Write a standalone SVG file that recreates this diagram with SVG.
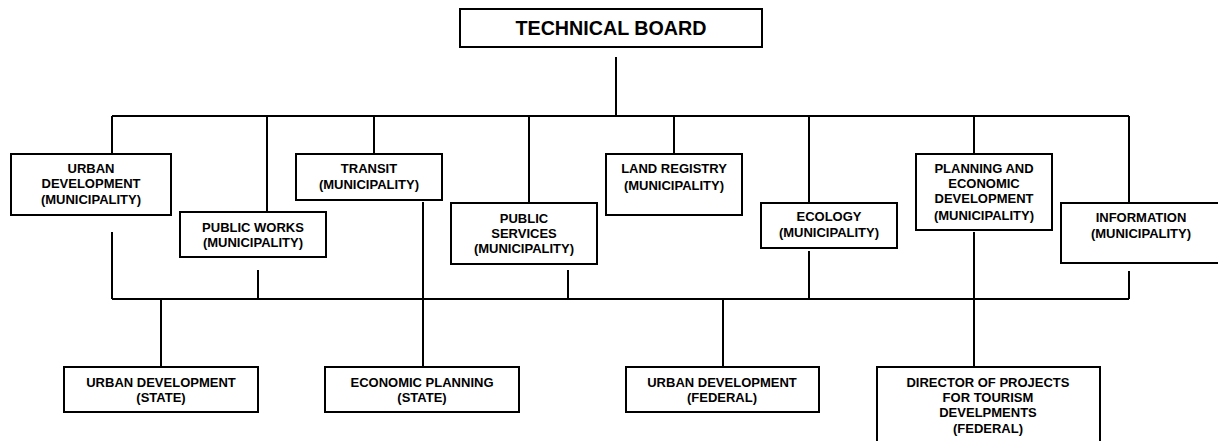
<svg xmlns="http://www.w3.org/2000/svg" width="1218" height="441" viewBox="0 0 1218 441">
<style>
.box{fill:#fff;stroke:#000;stroke-width:2}
.t{font-family:"Liberation Sans",Arial,sans-serif;font-weight:bold;font-size:13px;fill:#000;text-anchor:middle}
.big{font-size:19.7px}
.ln{stroke:#000;stroke-width:2;fill:none}
</style>
<rect width="1218" height="441" fill="#fff"/>
<g id="connectors">
<path class="ln" d="M616 57V116M112 116H1129M112 116V154M267 116V212M374 116V154M529 116V203M674 116V154M809 116V203M974 116V154M1129 116V203"/>
<path class="ln" d="M112 232V299M258 270V299M423 202V367M568 270V299M809 251V299M974 232V367M1129 271V299M112 299H1129M161 299V367M723 299V367"/>
</g>
<g id="technical-board"><rect class="box" x="460" y="9" width="302" height="38"/><text class="t big" x="611" y="35">TECHNICAL BOARD</text></g>
<g id="urban-dev-mun"><rect class="box" x="11" y="154" width="160" height="61"/><text class="t" x="91" y="173">URBAN</text><text class="t" x="91" y="188">DEVELOPMENT</text><text class="t" x="91" y="204">(MUNICIPALITY)</text></g>
<g id="public-works"><rect class="box" x="180" y="212" width="146" height="45"/><text class="t" x="253" y="232">PUBLIC WORKS</text><text class="t" x="253" y="247">(MUNICIPALITY)</text></g>
<g id="transit"><rect class="box" x="296" y="154" width="146" height="46"/><text class="t" x="369" y="173">TRANSIT</text><text class="t" x="369" y="189">(MUNICIPALITY)</text></g>
<g id="public-services"><rect class="box" x="451" y="203" width="146" height="61"/><text class="t" x="524" y="223">PUBLIC</text><text class="t" x="524" y="238">SERVICES</text><text class="t" x="524" y="253">(MUNICIPALITY)</text></g>
<g id="land-registry"><rect class="box" x="606" y="154" width="136" height="61"/><text class="t" x="674" y="173">LAND REGISTRY</text><text class="t" x="674" y="190">(MUNICIPALITY)</text></g>
<g id="ecology"><rect class="box" x="761" y="203" width="136" height="45"/><text class="t" x="829" y="221">ECOLOGY</text><text class="t" x="829" y="237">(MUNICIPALITY)</text></g>
<g id="planning"><rect class="box" x="916" y="154" width="136" height="76"/><text class="t" x="984" y="173">PLANNING AND</text><text class="t" x="984" y="188">ECONOMIC</text><text class="t" x="984" y="203">DEVELOPMENT</text><text class="t" x="984" y="220">(MUNICIPALITY)</text></g>
<g id="information"><rect class="box" x="1061" y="203" width="170" height="60"/><text class="t" x="1141" y="222">INFORMATION</text><text class="t" x="1141" y="238">(MUNICIPALITY)</text></g>
<g id="urban-dev-state"><rect class="box" x="64" y="367" width="194" height="45"/><text class="t" x="161" y="387">URBAN DEVELOPMENT</text><text class="t" x="161" y="402">(STATE)</text></g>
<g id="economic-planning-state"><rect class="box" x="325" y="367" width="194" height="45"/><text class="t" x="422" y="387">ECONOMIC PLANNING</text><text class="t" x="422" y="402">(STATE)</text></g>
<g id="urban-dev-federal"><rect class="box" x="626" y="367" width="193" height="45"/><text class="t" x="722" y="387">URBAN DEVELOPMENT</text><text class="t" x="722" y="402">(FEDERAL)</text></g>
<g id="director"><rect class="box" x="877" y="367" width="223" height="90"/><text class="t" x="988" y="387">DIRECTOR OF PROJECTS</text><text class="t" x="988" y="402">FOR TOURISM</text><text class="t" x="988" y="417">DEVELPMENTS</text><text class="t" x="988" y="433">(FEDERAL)</text></g>
</svg>
